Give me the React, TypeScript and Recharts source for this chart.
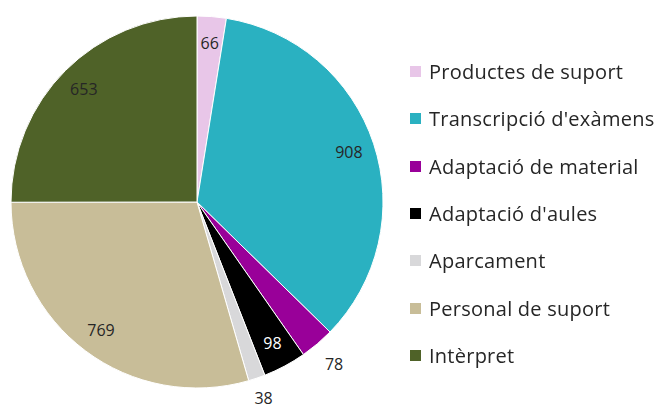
import React from 'react';
import { PieChart, Pie, Cell, Legend } from 'recharts';

const categories = [
  'Productes de suport',
  "Transcripció d'exàmens",
  'Adaptació de material',
  "Adaptació d'aules",
  'Aparcament',
  'Personal de suport',
  'Intèrpret',
];
const values = [66, 908, 78, 98, 38, 769, 653];
const colors = ['#E8C6E8', '#2AB1C1', '#990099', '#000000', '#D8D8DA', '#C8BD98', '#4F6228'];
const outsideLabels = [false, false, true, false, true, false, false];

const data = categories.map((name, i) => ({ name, value: values[i], fill: colors[i] }));

const RAD = Math.PI / 180;
const FONT = "'Open Sans', 'Noto Sans', sans-serif";

const renderLabel = (props: any) => {
  const { cx, cy, midAngle, outerRadius, index, value } = props;
  const r = outsideLabels[index] ? outerRadius + (index === 4 ? 21 : 26) : outerRadius * 0.86;
  const x = cx + r * Math.cos(-midAngle * RAD);
  const y = cy + r * Math.sin(-midAngle * RAD);
  return (
    <text x={x} y={y} fill={index === 3 ? '#ffffff' : '#262626'} textAnchor="middle" dominantBaseline="central"
      fontSize={16} fontFamily={FONT}>
      {value}
    </text>
  );
};

const renderLegend = () => (
  <div style={{ fontFamily: FONT, fontSize: 20, letterSpacing: 0.25, color: '#262626' }}>
    {data.map((d) => (
      <div key={d.name} style={{ display: 'flex', alignItems: 'center', height: 47.3 }}>
        <span style={{ display: 'inline-block', width: 11, height: 11, background: d.fill, marginRight: 8, flex: 'none' }} />
        <span style={{ whiteSpace: 'nowrap' }}>{d.name}</span>
      </div>
    ))}
  </div>
);

export default function App() {
  return (
    <div style={{ position: 'fixed', left: 0, top: 0, width: 658, height: 411, background: '#fff' }}>
      <PieChart width={658} height={411} margin={{ top: 0, right: 0, bottom: 0, left: 0 }}>
        <Pie
          data={data}
          dataKey="value"
          nameKey="name"
          cx={197}
          cy={202}
          outerRadius={186}
          startAngle={90}
          endAngle={-270}
          stroke="#ffffff"
          strokeWidth={1}
          label={renderLabel}
          labelLine={false}
          isAnimationActive={false}
        >
          {data.map((d) => (
            <Cell key={d.name} fill={d.fill} />
          ))}
        </Pie>
        <Legend
          layout="vertical"
          align="right"
          verticalAlign="top"
          content={renderLegend}
          wrapperStyle={{ position: 'absolute', left: 410, top: 48, width: 250 }}
        />
      </PieChart>
    </div>
  );
}
